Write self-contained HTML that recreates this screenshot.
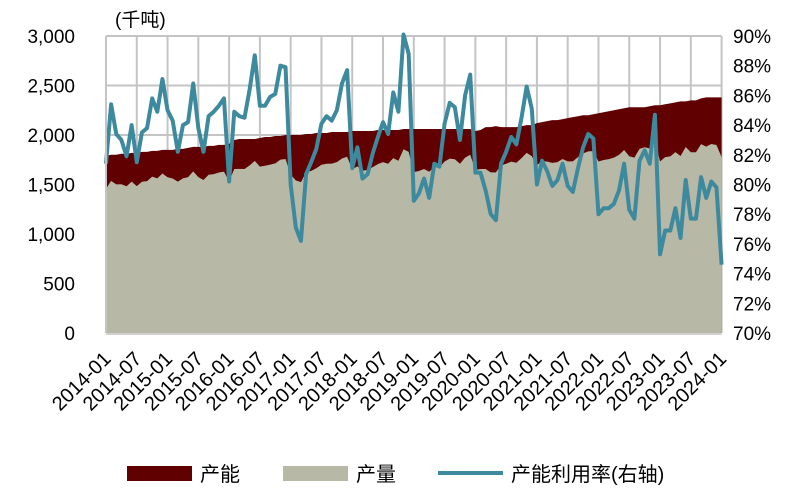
<!DOCTYPE html>
<html><head><meta charset="utf-8"><style>
html,body{margin:0;padding:0;background:#fff;width:809px;height:496px;overflow:hidden}
svg{font-family:"Liberation Sans","Noto Sans CJK SC",sans-serif}
</style></head><body>
<svg id="chart" width="809" height="496" viewBox="0 0 809 496" xmlns="http://www.w3.org/2000/svg">
<g id="grid"></g>
<g id="areas"></g>
<g id="lines"></g>
<g id="axes"></g>
<text x="115" y="26" font-size="19" fill="#000">(千吨)</text>
<g>
<g><rect x="127" y="466" width="65" height="15" fill="#600000"/><text x="200" y="481" font-size="20">产能</text></g>
<g><rect x="283" y="466" width="65" height="15" fill="#b8b8a6"/><text x="356" y="481" font-size="20">产量</text></g>
<g><line x1="438" y1="473" x2="503" y2="473" stroke="#3d8a9e" stroke-width="4"/><text x="511" y="481" font-size="20">产能利用率(右轴)</text></g>
</g>
</svg>
<script>
const capacity=[1790,1800,1800,1810,1810,1820,1820,1830,1830,1840,1840,1850,1850,1850,1860,1860,1870,1880,1880,1880,1890,1890,1900,1900,1910,1950,1960,1960,1960,1960,1970,1980,1980,1990,1990,2000,2000,2000,2000,2010,2010,2020,2020,2020,2030,2030,2030,2030,2040,2040,2040,2040,2040,2050,2050,2050,2050,2050,2060,2060,2060,2060,2060,2060,2060,2060,2060,2060,2060,2060,2060,2060,2040,2050,2080,2080,2090,2080,2080,2080,2080,2090,2100,2100,2120,2130,2140,2150,2150,2160,2170,2180,2190,2200,2200,2210,2220,2230,2240,2250,2260,2270,2280,2280,2280,2280,2290,2300,2300,2310,2320,2330,2340,2340,2350,2350,2370,2380,2380,2380,2380];
const production=[1457,1537,1501,1502,1482,1529,1483,1528,1534,1579,1562,1611,1573,1560,1529,1562,1575,1632,1575,1545,1599,1605,1621,1630,1532,1656,1658,1656,1693,1739,1680,1689,1701,1713,1751,1758,1600,1542,1524,1622,1638,1664,1699,1709,1711,1726,1762,1780,1654,1683,1640,1646,1675,1706,1726,1710,1767,1740,1856,1829,1625,1636,1656,1629,1677,1673,1732,1761,1755,1710,1772,1800,1648,1656,1656,1622,1622,1693,1710,1731,1720,1766,1819,1787,1696,1738,1731,1718,1726,1758,1734,1733,1776,1815,1835,1837,1732,1748,1756,1771,1799,1848,1785,1772,1860,1876,1864,1948,1732,1776,1784,1827,1788,1879,1826,1826,1908,1883,1909,1899,1775];
const utilization=[81.4,85.4,83.4,83.0,81.9,84.0,81.5,83.5,83.8,85.8,84.9,87.1,85.0,84.3,82.2,84.0,84.2,86.8,83.8,82.2,84.6,84.9,85.3,85.8,80.2,84.9,84.6,84.5,86.4,88.7,85.3,85.3,85.9,86.1,88.0,87.9,80.0,77.1,76.2,80.7,81.5,82.4,84.1,84.6,84.3,85.0,86.8,87.7,81.1,82.5,80.4,80.7,82.1,83.2,84.2,83.4,86.2,84.9,90.1,88.8,78.9,79.4,80.4,79.1,81.4,81.2,84.1,85.5,85.2,83.0,86.0,87.4,80.8,80.8,79.6,78.0,77.6,81.4,82.2,83.2,82.7,84.5,86.6,85.1,80.0,81.6,80.9,79.9,80.3,81.4,79.9,79.5,81.1,82.5,83.4,83.1,78.0,78.4,78.4,78.7,79.6,81.4,78.3,77.7,81.6,82.3,81.4,84.7,75.3,76.9,76.9,78.4,76.4,80.3,77.7,77.7,80.5,79.1,80.2,79.8,74.6];
const leftTicks=[0,500,1000,1500,2000,2500,3000];
const leftTickLabels=["0","500","1,000","1,500","2,000","2,500","3,000"];
const rightTicks=[70,72,74,76,78,80,82,84,86,88,90];
const xLabels=["2014-01","2014-07","2015-01","2015-07","2016-01","2016-07","2017-01","2017-07","2018-01","2018-07","2019-01","2019-07","2020-01","2020-07","2021-01","2021-07","2022-01","2022-07","2023-01","2023-07","2024-01"];

const NS="http://www.w3.org/2000/svg";
const X0=106,X1=721.6,Y0=333,Y1=36;
const xs=i=>X0+i*(X1-X0)/120;
const yl=v=>Y0-v*(Y0-Y1)/3000;
const yr=v=>Y0-(v-70)*(Y0-Y1)/20;
function mk(t,a,p){const e=document.createElementNS(NS,t);for(const k in a)e.setAttribute(k,a[k]);p.appendChild(e);return e;}
const grid=document.getElementById('grid'),areas=document.getElementById('areas'),lines=document.getElementById('lines'),axes=document.getElementById('axes');

leftTicks.forEach((v,k)=>{
  const l=mk('line',{x1:X0,x2:X1,y1:yl(v),y2:yl(v),stroke:'#c4c4c4','stroke-width':2},grid);
  
  
  const t=mk('text',{x:75,y:yl(v)+7,'text-anchor':'end','font-size':19},axes);
  t.textContent=leftTickLabels[k];
  
  
});
rightTicks.forEach(v=>{
  const t=mk('text',{x:733,y:yr(v)+7,'font-size':19},axes);
  t.textContent=v+'%';
  
  
});
xLabels.forEach((s,k)=>{
  const x=xs(k*6);
  const l=mk('line',{x1:x,x2:x,y1:Y1,y2:Y0,stroke:'#c4c4c4','stroke-width':2},grid);
  
  
  const t=mk('text',{x:x+6,y:360,'text-anchor':'end','font-size':20,transform:`rotate(-45 ${x+6} 360)`},axes);
  t.textContent=s;
  
  
});
function areaPath(arr){let d=`M${xs(0)},${Y0}`;arr.forEach((v,i)=>d+=`L${xs(i)},${yl(v)}`);return d+`L${xs(arr.length-1)},${Y0}Z`;}
const a1=mk('path',{d:areaPath(capacity),fill:'#600000'},areas);


const a2=mk('path',{d:areaPath(production),fill:'#b8b8a6'},areas);


const pl=mk('polyline',{points:utilization.map((v,i)=>xs(i)+','+yr(v)).join(' '),fill:'none',stroke:'#3d8a9e','stroke-width':4,'stroke-linejoin':'round'},lines);


const ax=mk('line',{x1:X0,x2:X0,y1:Y1,y2:Y0,stroke:'#c4c4c4','stroke-width':2},axes);


const bx=mk('line',{x1:X0,x2:X1,y1:Y0+1,y2:Y0+1,stroke:'#d0d0d0','stroke-width':2},axes);


</script>
</body></html>
